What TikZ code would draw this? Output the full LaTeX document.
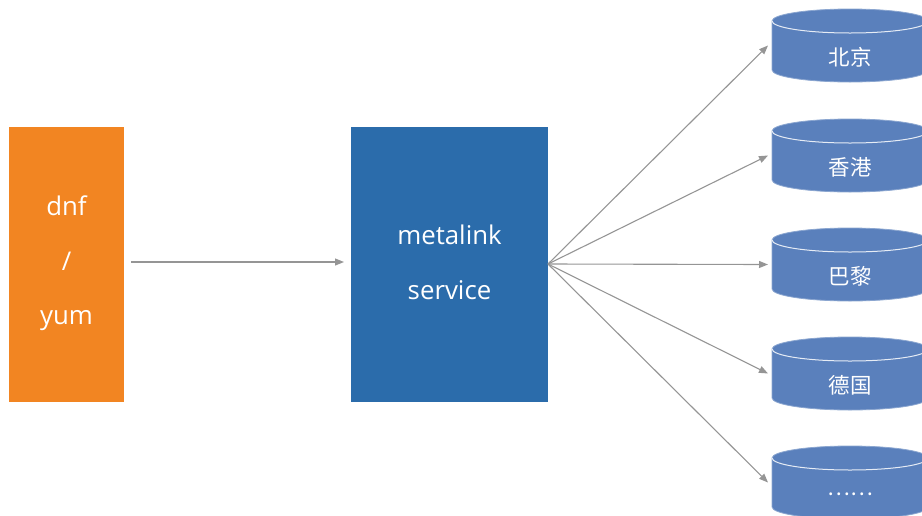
\documentclass[tikz,border=0pt]{standalone}
\usepackage{fontspec}
\setmainfont{Open Sans}
\newfontfamily\cjk{Noto Sans CJK SC}
\usetikzlibrary{arrows.meta}
\definecolor{orangebox}{HTML}{F28522}
\definecolor{bluebox}{HTML}{2B6CAB}
\definecolor{cylfill}{HTML}{5A80BC}
\definecolor{arrowgray}{HTML}{959595}
\tikzset{
  conn/.style={draw=arrowgray, line width=1.1pt, -{Triangle[length=9pt,width=7pt]}},
  boxtext/.style={text=white, font=\fontsize{25.8}{54.5}\selectfont, align=center},
  cyltext/.style={text=white, font=\cjk\fontsize{21.5}{25}\selectfont},
}
\begin{document}
\begin{tikzpicture}[x=1pt,y=1pt]
\useasboundingbox (0,0) rectangle (922,-515);
% left box
\fill[orangebox] (9,-127) rectangle (124,-402);
\node[boxtext] (dnf) at (66.5,-263.5) {dnf\\/\\yum};
\coordinate (dnfR) at (131,-262);
% blue box
\fill[bluebox] (351,-127) rectangle (548,-402);
\node[boxtext] (meta) at (449.5,-262.5) {metalink\\service};
\coordinate (metaL) at (344,-262);
\coordinate (metaR) at (548,-264);
\draw[conn] (dnfR) -- (metaL);
% cylinders
\foreach \i/\ty/\txt in {1/9/北京, 2/119/香港, 3/228/巴黎, 4/337/德国, 5/446/……}{
  \pgfmathsetmacro{\cy}{\ty+12}
  \pgfmathsetmacro{\by}{\ty+61}
  \pgfmathsetmacro{\my}{(\cy+\by)/2}
  \fill[cylfill, draw=cylfill!70!white, line width=0.8pt]
    (772,-\by) arc (180:360:78pt and 12pt) -- (928,-\cy) arc (0:180:78pt and 12pt) -- cycle;
  \draw[white!85!cylfill, line width=1pt] (772,-\cy) arc (180:360:78pt and 12pt);
  \node[cyltext] (c\i) at (850,-\my-12) {\txt};
  \coordinate (cl\i) at (768,-\my);
  \draw[conn] (metaR) -- (cl\i);
}
\end{tikzpicture}
\end{document}
